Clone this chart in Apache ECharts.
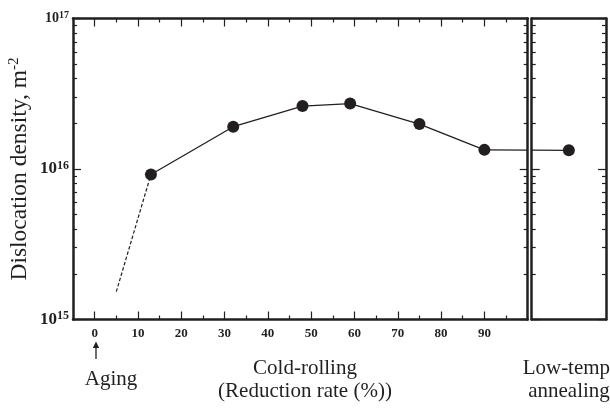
<!DOCTYPE html>
<html><head><meta charset="utf-8">
<script src="https://cdn.jsdelivr.net/npm/echarts@6/dist/echarts.min.js"></script>
<style>html,body{margin:0;padding:0;background:#fff}#c{width:610px;height:408px}</style>
</head><body><div id="c"></div>
<script>
// ---- data ----
const reductionRates = [13, 32, 48, 59, 75, 90];              // %
const densities = [9.2e15, 1.91e16, 2.62e16, 2.72e16, 1.99e16, 1.34e16]; // m^-2
const agingExtrapolationX = [5, 13];
const agingExtrapolationY = [1.53e15, 9.2e15];
const annealedDensity = 1.33e16;
const xTicksMajor = [0, 10, 20, 30, 40, 50, 60, 70, 80, 90];
const xTicksMinor = [5, 15, 25, 35, 45, 55, 65, 75, 85, 95];
const yDecadeExponents = [15, 16];
const yMinorMultipliers = [2, 3, 4, 5, 6, 7, 8, 9];
const xMin = -5, xMax = 100;
const yMin = 1e15, yMax = 1e17;

// ---- helpers ----
const INK = '#231f20';
const SERIF = "'Liberation Serif','Times New Roman',serif";
const logMinor = [];
yDecadeExponents.forEach(e => yMinorMultipliers.forEach(m => logMinor.push(e + Math.log10(m))));

const line = {show: true, onZero: false, lineStyle: {color: INK, width: 2.5}};
const noLine = {show: false, onZero: false};
const tick = (len, vals) => ({show: true, inside: true, length: len, customValues: vals, lineStyle: {color: INK, width: 1.2}});

function xAx(grid, pos, opts) {
  return Object.assign({type: 'value', gridIndex: grid, position: pos, min: xMin, max: xMax,
    splitLine: {show: false}, axisLabel: {show: false}}, opts);
}
function yLog(grid, pos, opts) {
  return Object.assign({type: 'log', gridIndex: grid, position: pos, min: yMin, max: yMax, logBase: 10,
    axisLine: line, axisTick: {show: true, inside: true, length: 8, lineStyle: {color: INK, width: 1.2}},
    splitLine: {show: false}, axisLabel: {show: false}}, opts);
}
function yMinorAx(grid, pos) {
  return {type: 'value', gridIndex: grid, position: pos, min: Math.log10(yMin), max: Math.log10(yMax),
    axisLine: noLine, axisTick: tick(4, logMinor), axisLabel: {show: false}, splitLine: {show: false}};
}

const geoMeanBreak = Math.sqrt(densities[densities.length - 1] * annealedDensity);

const chart = echarts.init(document.getElementById('c'));
chart.setOption({
  animation: false,
  backgroundColor: '#fff',
  grid: [
    {left: 73, top: 18.5, width: 454.7, height: 301, containLabel: false, outerBoundsMode: 'none'},
    {left: 531.7, top: 18.5, width: 74.3, height: 301, containLabel: false, outerBoundsMode: 'none'}
  ],
  xAxis: [
    xAx(0, 'bottom', {axisLine: line, axisTick: tick(8, xTicksMajor),
      axisLabel: {show: true, customValues: xTicksMajor, margin: 8, color: INK,
        fontFamily: SERIF, fontWeight: 'bold', fontSize: 13}}),
    xAx(0, 'bottom', {axisLine: noLine, axisTick: tick(4, xTicksMinor)}),
    xAx(0, 'top', {axisLine: line, axisTick: tick(8, xTicksMajor)}),
    xAx(0, 'top', {axisLine: noLine, axisTick: tick(4, xTicksMinor)}),
    {type: 'value', gridIndex: 1, position: 'bottom', min: 0, max: 1, axisLine: line,
      axisTick: {show: false}, axisLabel: {show: false}, splitLine: {show: false}},
    {type: 'value', gridIndex: 1, position: 'top', min: 0, max: 1, axisLine: line,
      axisTick: {show: false}, axisLabel: {show: false}, splitLine: {show: false}}
  ],
  yAxis: [
    yLog(0, 'left', {
      axisLabel: {show: true, margin: 4, color: INK, fontFamily: SERIF,
        formatter: v => {
          const e = Math.round(Math.log10(v));
          const s = e === 17 ? 't' : 'b';
          return '{' + s + '|10}{' + s + 's|' + e + '}';
        },
        rich: {
          b: {fontSize: 17, fontWeight: 'bold', fontFamily: SERIF, color: INK, lineHeight: 19},
          bs: {fontSize: 12, fontWeight: 'bold', fontFamily: SERIF, color: INK, verticalAlign: 'top', lineHeight: 12},
          t: {fontSize: 14, fontWeight: 'bold', fontFamily: SERIF, color: INK, lineHeight: 16},
          ts: {fontSize: 10, fontWeight: 'bold', fontFamily: SERIF, color: INK, verticalAlign: 'top', lineHeight: 10}
        }},
      name: '{n|Dislocation density, m}{s|-2}',
      nameLocation: 'middle', nameRotate: 90, nameGap: 41, nameMoveOverlap: false,
      nameTextStyle: {rich: {
        n: {fontSize: 23.5, fontFamily: SERIF, color: INK, lineHeight: 25},
        s: {fontSize: 15, fontFamily: SERIF, color: INK, verticalAlign: 'top', lineHeight: 15}
      }}
    }),
    yLog(0, 'right'),
    yMinorAx(0, 'left'),
    yMinorAx(0, 'right'),
    yLog(1, 'left'),
    yLog(1, 'right'),
    yMinorAx(1, 'left'),
    yMinorAx(1, 'right')
  ],
  series: [
    {type: 'line', xAxisIndex: 0, yAxisIndex: 0, silent: true,
      data: agingExtrapolationX.map((x, i) => [x, agingExtrapolationY[i]]),
      symbol: 'none', lineStyle: {color: INK, width: 1.2, type: [3.5, 2]}, z: 3},
    {type: 'line', xAxisIndex: 0, yAxisIndex: 0, silent: true,
      data: [[reductionRates[reductionRates.length - 1], densities[densities.length - 1]], [xMax, geoMeanBreak]],
      symbol: 'none', lineStyle: {color: INK, width: 1.3}, z: 3},
    {type: 'line', xAxisIndex: 0, yAxisIndex: 0, silent: true,
      data: reductionRates.map((x, i) => [x, densities[i]]),
      symbol: 'circle', symbolSize: 12, itemStyle: {color: INK, opacity: 1},
      lineStyle: {color: INK, width: 1.3}, z: 4},
    {type: 'line', xAxisIndex: 4, yAxisIndex: 4, silent: true,
      data: [[0, geoMeanBreak], [0.5, annealedDensity]],
      symbol: 'none', lineStyle: {color: INK, width: 1.3}, z: 3},
    {type: 'scatter', xAxisIndex: 4, yAxisIndex: 4, silent: true,
      data: [[0.5, annealedDensity]], symbol: 'circle', symbolSize: 12,
      itemStyle: {color: INK, opacity: 1}, z: 4}
  ],
  graphic: [
    {type: 'line', shape: {x1: 96, y1: 359, x2: 96, y2: 346}, style: {stroke: INK, lineWidth: 1.3}},
    {type: 'polygon', shape: {points: [[96, 341.5], [92.8, 348], [99.2, 348]]}, style: {fill: INK}},
    {type: 'text', x: 111, y: 368, style: {text: 'Aging', fill: INK, font: "21px 'Liberation Serif'",
      textAlign: 'center', textVerticalAlign: 'top', lineHeight: 23}},
    {type: 'text', x: 305, y: 357, style: {text: 'Cold-rolling\n(Reduction rate (%))', fill: INK,
      font: "21px 'Liberation Serif'", textAlign: 'center', textVerticalAlign: 'top', lineHeight: 23}},
    {type: 'text', x: 569, y: 357, style: {text: 'Low-temp.\nannealing', fill: INK,
      font: "21px 'Liberation Serif'", textAlign: 'center', textVerticalAlign: 'top', lineHeight: 23}}
  ]
});
</script></body></html>
